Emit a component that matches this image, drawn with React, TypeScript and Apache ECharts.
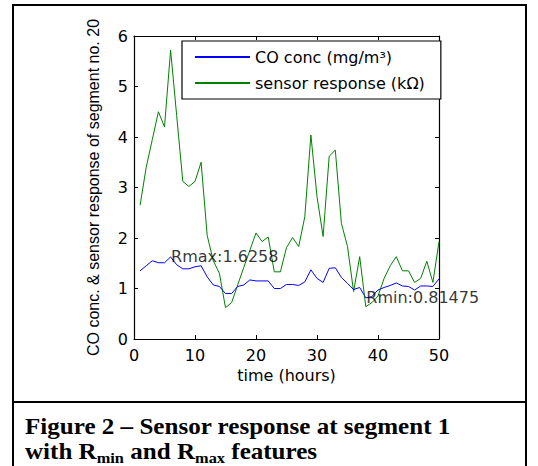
import React, { useEffect, useRef } from "react";
import * as echarts from "echarts";

const hours = [1, 2, 3, 4, 5, 6, 7, 8, 9, 10, 11, 12, 13, 14, 15, 16, 17, 18, 19, 20, 21, 22, 23, 24, 25, 26, 27, 28, 29, 30, 31, 32, 33, 34, 35, 36, 37, 38, 39, 40, 41, 42, 43, 44, 45, 46, 47, 48, 49, 50];

const coConc = [1.35, 1.45, 1.55, 1.51, 1.51, 1.6258, 1.47, 1.39, 1.39, 1.43, 1.45, 1.23, 1.07, 1.04, 0.9, 0.9, 1.04, 1.07, 1.17, 1.15, 1.15, 1.15, 1.0, 1.0, 1.08, 1.08, 1.06, 1.13, 1.37, 1.2, 1.12, 1.4, 1.41, 1.22, 1.1, 0.98, 1.02, 0.81475, 0.84, 0.97, 1.02, 1.06, 1.11, 1.05, 1.04, 0.97, 1.05, 1.05, 1.04, 1.19];

const sensorResp = [2.65, 3.4, 3.95, 4.5, 4.2, 5.72, 4.42, 3.12, 3.02, 3.12, 3.5, 2.05, 1.55, 1.3, 0.62, 0.72, 1.07, 1.42, 1.76, 2.1, 1.93, 2.02, 1.33, 1.33, 1.81, 2.01, 1.83, 2.42, 4.04, 2.82, 2.03, 3.62, 3.74, 2.29, 1.83, 0.94, 1.63, 0.64, 0.72, 0.85, 1.2, 1.45, 1.63, 1.35, 1.35, 1.12, 1.2, 1.54, 1.12, 1.93];

const extremaNames = ["Rmax", "Rmin"];
const extremaHours = [6, 38];
const extremaValues = [1.6258, 0.81475];

const xTicks = [0, 10, 20, 30, 40, 50];
const yTicks = [0, 1, 2, 3, 4, 5, 6];

const seriesNames = ["CO conc (mg/m³)", "sensor response (kΩ)"];
const xName = "time (hours)";
const yName = "CO conc. & sensor response of segment no. 20";
const captionLine1 = "Figure 2 – Sensor response at segment 1";

const SANS = "DejaVu Sans";

export default function App() {
  const ref = useRef<HTMLDivElement>(null);
  useEffect(() => {
    document.body.style.margin = "0";
    const chart = echarts.init(ref.current!, null, { renderer: "svg" });
    const axisCommon = {
      type: "value" as const,
      axisLine: { show: true, onZero: false, lineStyle: { color: "#000", width: 1.2 } },
      axisTick: { show: true, inside: true, length: 4, lineStyle: { color: "#000", width: 1 } },
      splitLine: { show: false },
    };
    const option: any = {
      animation: false,
      grid: { left: 134, top: 36, width: 305, height: 303 },
      legend: {
        data: seriesNames,
        orient: "vertical",
        left: 182,
        top: 41,
        itemWidth: 55,
        itemHeight: 14,
        itemGap: 8,
        padding: [7, 16, 7, 12],
        borderColor: "#000",
        borderWidth: 1.2,
        backgroundColor: "#fff",
        itemStyle: { opacity: 0, borderWidth: 0 },
        textStyle: { fontFamily: SANS, fontSize: 16, color: "#000", lineHeight: 18 },
      },
      xAxis: [
        {
          ...axisCommon,
          min: xTicks[0],
          max: xTicks[xTicks.length - 1],
          interval: 10,
          position: "bottom",
          axisLabel: { color: "#000", fontFamily: SANS, fontSize: 16, margin: 8 },
          name: xName,
          nameLocation: "middle",
          nameGap: 25,
          nameTextStyle: { color: "#000", fontFamily: SANS, fontSize: 16 },
        },
        {
          ...axisCommon,
          min: xTicks[0],
          max: xTicks[xTicks.length - 1],
          interval: 10,
          position: "top",
          axisLabel: { show: false },
        },
      ],
      yAxis: [
        {
          ...axisCommon,
          min: yTicks[0],
          max: yTicks[yTicks.length - 1],
          interval: 1,
          position: "left",
          axisLabel: { color: "#000", fontFamily: SANS, fontSize: 16, margin: 6 },
          name: yName,
          nameLocation: "middle",
          nameGap: 33,
          nameTextStyle: { color: "#000", fontFamily: "Liberation Sans", fontSize: 16 },
        },
        {
          ...axisCommon,
          min: yTicks[0],
          max: yTicks[yTicks.length - 1],
          interval: 1,
          position: "right",
          axisLabel: { show: false },
        },
      ],
      series: [
        {
          name: seriesNames[0],
          type: "line",
          data: hours.map((h, i) => [h, coConc[i]]),
          symbol: "none",
          lineStyle: { color: "#0000ff", width: 1 },
          itemStyle: { color: "#0000ff" },
          z: 3,
        },
        {
          name: seriesNames[1],
          type: "line",
          data: hours.map((h, i) => [h, sensorResp[i]]),
          symbol: "none",
          lineStyle: { color: "#008000", width: 1 },
          itemStyle: { color: "#008000" },
          z: 2,
        },
        {
          name: "extrema",
          type: "scatter",
          data: extremaHours.map((h, i) => ({ value: [h, extremaValues[i]], name: extremaNames[i] })),
          symbolSize: 1,
          itemStyle: { color: "rgba(0,0,0,0)" },
          label: {
            show: true,
            position: "right",
            distance: 0,
            color: "#000",
            fontFamily: SANS,
            fontSize: 16,
            formatter: (p: any) => `${p.name}:${p.value[1]}`,
          },
          z: 4,
        },
      ],
      graphic: [
        {
          type: "rect",
          shape: { x: 13, y: 5, width: 513, height: 470 },
          style: { fill: "none", stroke: "#000", lineWidth: 2 },
          silent: true,
        },
        {
          type: "line",
          shape: { x1: 13, y1: 402, x2: 526, y2: 402 },
          style: { stroke: "#000", lineWidth: 2 },
          silent: true,
        },
        {
          type: "text",
          x: 25,
          y: 415,
          scaleX: 1.09,
          style: {
            text: `{b|${captionLine1}}`,
            verticalAlign: "top",
            rich: {
              b: { fontFamily: "Liberation Serif", fontWeight: "bold", fontSize: 23, lineHeight: 23, verticalAlign: "top", fill: "#000" },
            },
          },
          silent: true,
        },
        {
          type: "text",
          x: 25,
          y: 440,
          scaleX: 1.09,
          style: {
            text: "{b|with R}{s|min}{b| and R}{s|max}{b| features}",
            verticalAlign: "top",
            rich: {
              b: { fontFamily: "Liberation Serif", fontWeight: "bold", fontSize: 23, lineHeight: 23, verticalAlign: "top", fill: "#000" },
              s: { fontFamily: "Liberation Serif", fontWeight: "bold", fontSize: 15, lineHeight: 15, verticalAlign: "top", padding: [10, 0, 0, 0], fill: "#000" },
            },
          },
          silent: true,
        },
      ],
    };
    chart.setOption(option);
    return () => chart.dispose();
  }, []);
  return <div ref={ref} style={{ width: 538, height: 466 }} />;
}
